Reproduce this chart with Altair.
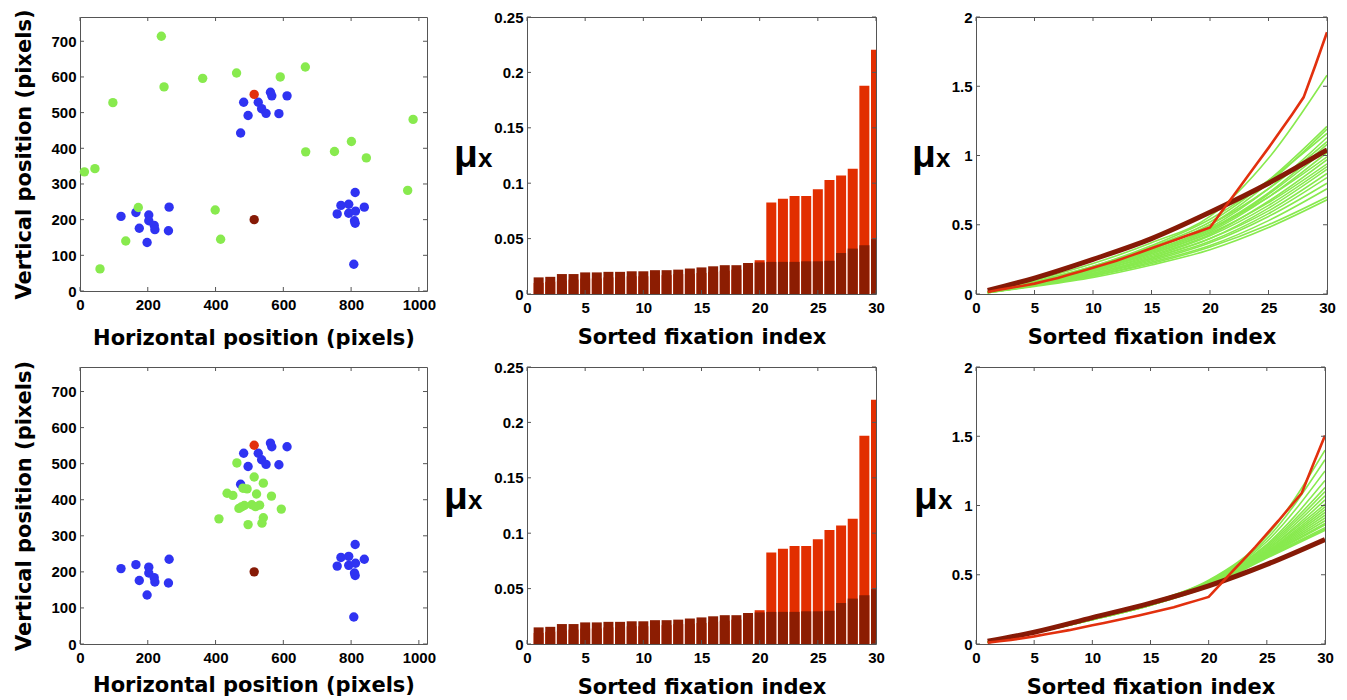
import altair as alt
import pandas as pd

# ---------------- data ----------------
blue_x = [483, 526, 496, 536, 549, 474, 562, 566, 587, 611,
          121, 165, 203, 203, 175, 219, 221, 198, 263, 261,
          759, 770, 793, 793, 813, 812, 839, 812, 810, 808]
blue_y = [529, 529, 492, 511, 498, 443, 557, 547, 497, 547,
          209, 220, 213, 197, 176, 184, 172, 136, 235, 169,
          216, 240, 243, 218, 224, 276, 235, 190, 197, 75]
green_top_x = [240, 248, 97, 362, 462, 591, 665, 983, 666, 751,
               801, 845, 967, 13, 44, 172, 135, 59, 399, 415]
green_top_y = [714, 572, 528, 596, 611, 600, 628, 481, 390, 391,
               419, 373, 282, 334, 343, 234, 140, 62, 227, 145]
green_bot_x = [463, 514, 541, 434, 451, 481, 493, 521, 565, 469,
               485, 507, 530, 518, 594, 410, 496, 541, 537, 476]
green_bot_y = [502, 463, 446, 418, 412, 432, 430, 416, 410, 376,
               384, 386, 385, 381, 374, 347, 331, 350, 335, 380]
red_pt_x, red_pt_y = [514], [551]
brown_pt_x, brown_pt_y = [514], [200]

fix_index = list(range(1, 31))
bar_red = [0.010, 0.011, 0.012, 0.013, 0.014, 0.014, 0.015, 0.015, 0.016, 0.016,
           0.017, 0.017, 0.018, 0.018, 0.019, 0.020, 0.021, 0.022, 0.024, 0.0305,
           0.0826, 0.086, 0.0885, 0.0885, 0.0945, 0.103, 0.107, 0.113, 0.188, 0.2205]
bar_brown = [0.015, 0.0155, 0.018, 0.018, 0.0195, 0.0195, 0.020, 0.020, 0.0205, 0.0205,
             0.0215, 0.0215, 0.022, 0.023, 0.024, 0.025, 0.026, 0.026, 0.028, 0.0285,
             0.029, 0.029, 0.029, 0.0295, 0.0295, 0.030, 0.037, 0.041, 0.044, 0.0495]

knots = [1, 5, 10, 15, 20, 25, 30]
green_top = [
    [0.02, 0.10, 0.22, 0.37, 0.56, 0.98, 1.58],
    [0.015, 0.09, 0.20, 0.34, 0.52, 0.82, 1.21],
    [0.015, 0.085, 0.19, 0.33, 0.50, 0.80, 1.19],
    [0.015, 0.09, 0.20, 0.35, 0.54, 0.82, 1.16],
    [0.015, 0.08, 0.18, 0.31, 0.48, 0.76, 1.13],
    [0.015, 0.085, 0.19, 0.32, 0.50, 0.76, 1.10],
    [0.015, 0.08, 0.18, 0.31, 0.47, 0.73, 1.08],
    [0.015, 0.08, 0.17, 0.30, 0.46, 0.72, 1.05],
    [0.015, 0.075, 0.17, 0.29, 0.45, 0.70, 1.02],
    [0.015, 0.08, 0.18, 0.31, 0.47, 0.70, 0.99],
    [0.012, 0.07, 0.16, 0.28, 0.43, 0.67, 0.97],
    [0.012, 0.075, 0.17, 0.29, 0.44, 0.66, 0.94],
    [0.012, 0.07, 0.16, 0.27, 0.42, 0.64, 0.92],
    [0.012, 0.07, 0.15, 0.26, 0.40, 0.62, 0.90],
    [0.012, 0.065, 0.15, 0.26, 0.40, 0.60, 0.87],
    [0.012, 0.065, 0.14, 0.25, 0.38, 0.58, 0.84],
    [0.01, 0.06, 0.14, 0.24, 0.37, 0.56, 0.80],
    [0.01, 0.06, 0.13, 0.23, 0.35, 0.53, 0.76],
    [0.01, 0.06, 0.13, 0.22, 0.34, 0.50, 0.70],
    [0.01, 0.055, 0.12, 0.21, 0.32, 0.48, 0.68],
]
green_bot = [
    [0.015, 0.085, 0.19, 0.30, 0.46, 0.78, 1.40],
    [0.015, 0.085, 0.19, 0.30, 0.455, 0.76, 1.33],
    [0.015, 0.085, 0.19, 0.30, 0.45, 0.74, 1.25],
    [0.015, 0.085, 0.19, 0.30, 0.45, 0.72, 1.18],
    [0.015, 0.085, 0.185, 0.295, 0.445, 0.71, 1.13],
    [0.015, 0.085, 0.185, 0.295, 0.445, 0.70, 1.10],
    [0.015, 0.08, 0.185, 0.295, 0.44, 0.69, 1.07],
    [0.015, 0.08, 0.185, 0.29, 0.44, 0.68, 1.04],
    [0.015, 0.08, 0.185, 0.29, 0.44, 0.68, 1.01],
    [0.015, 0.08, 0.18, 0.29, 0.435, 0.67, 0.99],
    [0.015, 0.08, 0.18, 0.29, 0.435, 0.665, 0.97],
    [0.015, 0.08, 0.18, 0.29, 0.43, 0.66, 0.95],
    [0.015, 0.08, 0.18, 0.285, 0.43, 0.655, 0.93],
    [0.015, 0.08, 0.18, 0.285, 0.43, 0.65, 0.91],
    [0.015, 0.08, 0.18, 0.285, 0.425, 0.645, 0.89],
    [0.015, 0.08, 0.18, 0.285, 0.425, 0.64, 0.87],
    [0.015, 0.08, 0.175, 0.28, 0.42, 0.635, 0.86],
    [0.015, 0.08, 0.175, 0.28, 0.42, 0.63, 0.84],
    [0.015, 0.08, 0.175, 0.28, 0.42, 0.625, 0.83],
    [0.015, 0.08, 0.175, 0.28, 0.415, 0.62, 0.82],
]
brown_top = [0.025, 0.115, 0.25, 0.40, 0.59, 0.80, 1.04]
brown_bot = [0.02, 0.085, 0.19, 0.295, 0.42, 0.575, 0.755]
red_top = [0.015, 0.03, 0.045, 0.06, 0.075, 0.095, 0.115, 0.14, 0.165, 0.19,
           0.215, 0.24, 0.27, 0.30, 0.33, 0.36, 0.39, 0.42, 0.45, 0.48,
           0.595, 0.71, 0.825, 0.94, 1.055, 1.175, 1.295, 1.42, 1.65, 1.89]
red_bot = [0.01, 0.02, 0.03, 0.042, 0.055, 0.07, 0.085, 0.10, 0.118, 0.135,
           0.152, 0.17, 0.188, 0.206, 0.225, 0.245, 0.265, 0.29, 0.315, 0.34,
           0.43, 0.52, 0.61, 0.70, 0.795, 0.89, 0.99, 1.09, 1.30, 1.505]

scatter_xticks = [0, 200, 400, 600, 800, 1000]
scatter_yticks = [0, 100, 200, 300, 400, 500, 600, 700]
idx_ticks = [0, 5, 10, 15, 20, 25, 30]
bar_yticks = [0, 0.05, 0.1, 0.15, 0.2, 0.25]
line_yticks = [0, 0.5, 1, 1.5, 2]

# ---------------- style ----------------
BLUE = "#2f33f2"
GREEN = "#88ea4e"
RED = "#e2300e"
BROWN = "#861a06"
BAR_RED = "#e22e00"
BAR_BROWN = "#8c1d02"
BOX = "#555555"


def tick_layers(xfield, xvals, X, yfield, yvals, Y, W, H):
    xt = pd.DataFrame({xfield: xvals})
    yt = pd.DataFrame({yfield: yvals})
    m = dict(color=BOX, strokeWidth=1)
    return [
        alt.Chart(xt).mark_rule(**m).encode(x=X, y=alt.value(H), y2=alt.value(H - 4)),
        alt.Chart(xt).mark_rule(**m).encode(x=X, y=alt.value(0), y2=alt.value(4)),
        alt.Chart(yt).mark_rule(**m).encode(y=Y, x=alt.value(0), x2=alt.value(4)),
        alt.Chart(yt).mark_rule(**m).encode(y=Y, x=alt.value(W), x2=alt.value(W - 4)),
    ]


def mu_label(dx, dy):
    a = alt.Chart(pd.DataFrame({"t": ["μ"]})).mark_text(
        align="left", baseline="alphabetic", font="Liberation Sans",
        fontWeight="bold", fontSize=39, color="black"
    ).encode(text="t:N", x=alt.value(dx), y=alt.value(dy))
    b = alt.Chart(pd.DataFrame({"t": ["x"]})).mark_text(
        align="left", baseline="alphabetic", font="Liberation Sans",
        fontWeight="bold", fontSize=26, color="black"
    ).encode(text="t:N", x=alt.value(dx + 24), y=alt.value(dy))
    return [a, b]


def xaxis(title, values, tpad, fmt=None):
    kw = dict(values=values, title=title, labelPadding=6, titlePadding=tpad,
              labelFlush=False)
    if fmt:
        kw["format"] = fmt
    return alt.Axis(**kw)


def scatter_panel(gx, gy, W, H, tpad):
    xs = alt.Scale(domain=[0, 1024], nice=False, zero=False, padding=0)
    ys = alt.Scale(domain=[0, 768], nice=False, zero=False, padding=0)
    xax = xaxis("Horizontal position (pixels)", scatter_xticks, tpad, "d")
    yax = alt.Axis(values=scatter_yticks, title="Vertical position (pixels)",
                   titlePadding=16, format="d")
    X = alt.X("px:Q", scale=xs, axis=xax)
    Y = alt.Y("py:Q", scale=ys, axis=yax)

    def pts(xv, yv, color):
        df = pd.DataFrame({"px": xv, "py": yv})
        return alt.Chart(df).mark_circle(size=88, opacity=1, color=color).encode(x=X, y=Y)

    layers = [
        pts(blue_x, blue_y, BLUE),
        pts(gx, gy, GREEN),
        pts(red_pt_x, red_pt_y, RED),
        pts(brown_pt_x, brown_pt_y, BROWN),
    ]
    layers += tick_layers("px", scatter_xticks, X, "py", scatter_yticks, Y, W, H)
    return alt.layer(*layers).properties(width=W, height=H)


def bar_panel(W, H, tpad, mu_dx, mu_dy):
    df = pd.DataFrame({"i": fix_index, "red": bar_red, "brown": bar_brown})
    xs = alt.Scale(domain=[0, 30], nice=False, zero=False, padding=0)
    ys = alt.Scale(domain=[0, 0.25], nice=False, padding=0)
    xax = xaxis("Sorted fixation index", idx_ticks, tpad)
    yax = alt.Axis(values=bar_yticks, title=None, format="~g")
    base = alt.Chart(df).transform_calculate(
        x0="datum.i - 0.43", x1="datum.i + 0.43"
    )
    red = base.mark_bar(color=BAR_RED, clip=True).encode(
        x=alt.X("x0:Q", scale=xs, axis=xax), x2="x1:Q",
        y=alt.Y("red:Q", scale=ys, axis=yax), y2=alt.datum(0),
    )
    brown = base.mark_bar(color=BAR_BROWN, clip=True).encode(
        x=alt.X("x0:Q", scale=xs, axis=xax), x2="x1:Q",
        y=alt.Y("brown:Q", scale=ys, axis=yax), y2=alt.datum(0),
    )
    layers = [red, brown]
    layers += tick_layers("x0", idx_ticks, alt.X("x0:Q", scale=xs, axis=xax),
                          "red", bar_yticks, alt.Y("red:Q", scale=ys, axis=yax), W, H)
    layers += mu_label(mu_dx, mu_dy)
    return alt.layer(*layers).properties(width=W, height=H)


def line_panel(greens, brown_vals, red_vals, W, H, tpad, mu_dx, mu_dy):
    xs = alt.Scale(domain=[0, 30], nice=False, zero=False, padding=0)
    ys = alt.Scale(domain=[0, 2], nice=False, padding=0)
    xax = xaxis("Sorted fixation index", idx_ticks, tpad)
    yax = alt.Axis(values=line_yticks, title=None, format="~g")
    X = alt.X("idx:Q", scale=xs, axis=xax)
    Y = alt.Y("val:Q", scale=ys, axis=yax)
    rows = []
    for k, line in enumerate(greens):
        for xi, v in zip(knots, line):
            rows.append({"idx": xi, "val": v, "line": k})
    gdf = pd.DataFrame(rows)
    g = alt.Chart(gdf).mark_line(color=GREEN, strokeWidth=1.6,
                                 interpolate="monotone", clip=True).encode(
        x=X, y=Y, detail="line:N",
    )
    bdf = pd.DataFrame({"idx": knots, "val": brown_vals})
    b = alt.Chart(bdf).mark_line(color=BROWN, strokeWidth=5,
                                 interpolate="monotone", clip=True).encode(x=X, y=Y)
    rdf = pd.DataFrame({"idx": fix_index, "val": red_vals})
    r = alt.Chart(rdf).mark_line(color=RED, strokeWidth=2.6, clip=True).encode(x=X, y=Y)
    layers = [g, b, r]
    layers += tick_layers("idx", idx_ticks, X, "val", line_yticks, Y, W, H)
    layers += mu_label(mu_dx, mu_dy)
    return alt.layer(*layers).properties(width=W, height=H)


p1 = scatter_panel(green_top_x, green_top_y, 347, 274, 15)
p2 = bar_panel(349, 277, 11, -73, 150)
p3 = line_panel(green_top, brown_top, red_top, 351, 277, 11, -64, 150)
p4 = scatter_panel(green_bot_x, green_bot_y, 347, 277, 9)
p5 = bar_panel(349, 277, 11, -83, 142)
p6 = line_panel(green_bot, brown_bot, red_bot, 349, 277, 11, -62, 142)

chart = alt.concat(
    p1, p2, p3, p4, p5, p6, columns=3,
    spacing={"row": 73, "column": 100}, bounds="flush",
).properties(
    padding={"left": 5, "top": 0, "right": 2, "bottom": 0},
    background="white",
).configure_view(
    stroke=BOX, strokeWidth=1
).configure_axis(
    labelFont="Liberation Sans", labelFontWeight="bold", labelFontSize=15,
    labelColor="black", titleFont="DejaVu Sans", titleFontWeight="bold",
    titleFontSize=21, titleColor="black", ticks=False, domain=False,
    grid=False, labelPadding=4,
)

chart.save("out.html", embed_options={"renderer": "svg", "actions": False})
